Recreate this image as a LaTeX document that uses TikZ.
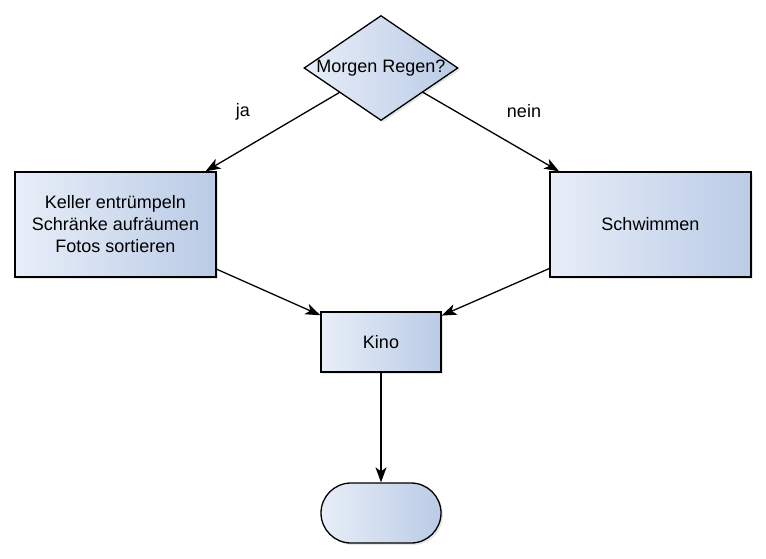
\documentclass[tikz,border=0pt]{standalone}
\usepackage{fontspec}
\setmainfont{Liberation Sans}
\usetikzlibrary{shapes.geometric,arrows.meta,shadows}
\definecolor{gradL}{HTML}{E8EEF8}
\definecolor{gradR}{HTML}{BACBE6}
\begin{document}
\begin{tikzpicture}[x=1pt,y=-1pt,
  every node/.style={font=\fontsize{18}{22}\selectfont},
  filled/.style={draw=black, line width=1.3pt, left color=gradL, right color=gradR,
     drop shadow={shadow xshift=2pt, shadow yshift=-2pt, opacity=0.2}},
  boxnode/.style={filled, rectangle, inner sep=0pt, align=center},
  conn/.style={draw=black, line width=1.3pt, -{Stealth[length=15pt,width=11pt,inset=4pt]}},
  lbl/.style={inner sep=0pt}
]
\useasboundingbox (0,0) rectangle (766,558);
\node[filled, diamond, inner sep=0pt, minimum width=154pt, minimum height=105pt] (q) at (381,68) {\makebox[0pt]{Morgen Regen?}};
\node[boxnode, minimum width=201pt, minimum height=105pt] (l) at (115.5,224.5) {Keller entrümpeln\\Schränke aufräumen\\Fotos sortieren};
\node[boxnode, minimum width=201pt, minimum height=105pt] (r) at (650.5,224.5) {Schwimmen};
\node[boxnode, minimum width=120pt, minimum height=60pt] (k) at (381,342) {Kino};
\node[boxnode, rounded corners=30pt, minimum width=120pt, minimum height=60pt] (e) at (381,513) {};
\node[lbl] (ja) at (243,112) {ja};
\node[lbl] (nein) at (524,111) {nein};
\draw[conn] (q) -- (l);
\draw[conn] (q) -- (r);
\draw[conn] (l) -- (k);
\draw[conn] (r) -- (k);
\draw[conn] (k) -- (e);
\end{tikzpicture}
\end{document}
